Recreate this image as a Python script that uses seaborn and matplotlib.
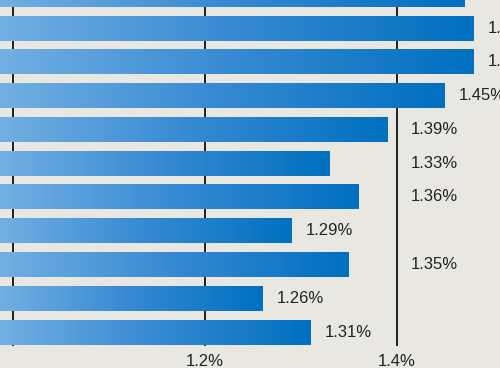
import numpy as np
import pandas as pd
import matplotlib
matplotlib.use("Agg")
import matplotlib.pyplot as plt
import seaborn as sns
from matplotlib.colors import LinearSegmentedColormap

# data (top to bottom)
categories = ["A", "B", "C", "D", "E", "F", "G", "H", "I", "J", "K"]
values = [1.47, 1.48, 1.48, 1.45, 1.39, 1.33, 1.36, 1.29, 1.35, 1.26, 1.31]
tick_values = [1.0, 1.2, 1.4]
tick_labels = ["", "1.2%", "1.4%"]

BG = "#e9e7e2"
plt.rcParams['font.family'] = ['Liberation Sans', 'DejaVu Sans']

fig = plt.figure(figsize=(5, 3.68), dpi=100, facecolor=BG)
ax = fig.add_axes([0, 22 / 368, 1, 346 / 368])
ax.set_facecolor(BG)

df = pd.DataFrame({"cat": categories, "val": values})
sns.barplot(data=df, x="val", y="cat", orient="h", ax=ax, width=0.74,
            color="#0070c0", zorder=2)

x0, x1 = 0.9865, 1.5073
ax.set_xlim(x0, x1)
ax.set_ylim(10.41, 0.17)

cmap = LinearSegmentedColormap.from_list("g", ["#72afe3", "#3589d2", "#0070c0"])
grad = np.linspace(0, 1, 256).reshape(1, -1)
for p in list(ax.patches):
    bx, by = p.get_x(), p.get_y()
    w, h = p.get_width(), p.get_height()
    end = bx + w
    im = ax.imshow(grad, cmap=cmap, aspect="auto",
                   extent=[x0, end, by + h, by], zorder=2.5)
    im.set_clip_path(p)
    p.set_facecolor("none")
    p.set_edgecolor("none")
ax.set_xlim(x0, x1)
ax.set_ylim(10.41, 0.17)

# grid lines
for t in tick_values:
    ax.axvline(t, color="#111111", lw=1.3, zorder=1)

ax.set_xticks(tick_values)
ax.set_xticklabels(tick_labels)
ax.tick_params(axis="x", length=0, pad=6, labelsize=12, labelcolor="#222222")
ax.set_yticks([])
ax.set_xlabel("")
ax.set_ylabel("")
for s in ax.spines.values():
    s.set_visible(False)

# value labels
off = 14 / 960
for i, v in enumerate(values):
    xl = v + off
    if v < 1.4 and v + off + 0.06 > 1.4:
        xl = 1.4 + off
    ax.text(xl, i, f"{v:.2f}%", va="center", ha="left", fontsize=12,
            color="#222222", zorder=3, clip_on=True)

fig.savefig("out.png", dpi=100, facecolor=BG)
